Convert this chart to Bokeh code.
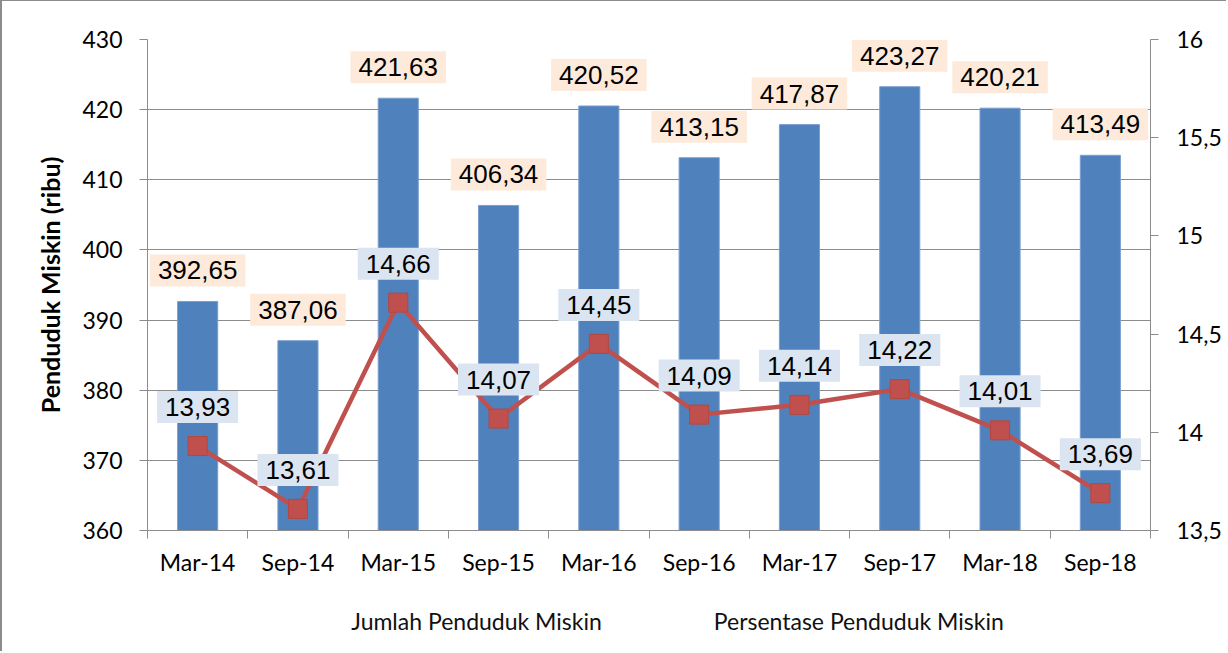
import numpy as np
from bokeh.plotting import figure
from bokeh.layouts import column
from bokeh.models import Range1d, LinearAxis, FixedTicker, Label, Legend, LegendItem
from bokeh.embed import file_html
from bokeh.resources import INLINE

categories = ["Mar-14", "Sep-14", "Mar-15", "Sep-15", "Mar-16",
              "Sep-16", "Mar-17", "Sep-17", "Mar-18", "Sep-18"]
jumlah = [392.65, 387.06, 421.63, 406.34, 420.52, 413.15, 417.87, 423.27, 420.21, 413.49]
persen = [13.93, 13.61, 14.66, 14.07, 14.45, 14.09, 14.14, 14.22, 14.01, 13.69]
left_ticks = [360, 370, 380, 390, 400, 410, 420, 430]
right_ticks = [13.5, 14.0, 14.5, 15.0, 15.5, 16.0]
right_tick_labels = ["13,5", "14", "14,5", "15", "15,5", "16"]
series_names = ["Jumlah Penduduk Miskin", "Persentase Penduduk Miskin"]
y_title = "Penduduk Miskin (ribu)"

BLUE = "#4F81BD"
RED = "#C0504D"
GRID = "#8C8C8C"
FONT = "Lato"
LABEL_FONT = "Liberation Sans"

n = len(categories)
xs = [i + 0.5 for i in range(n)]
boundaries = [float(i) for i in range(n + 1)]

p = figure(width=1226, height=590, output_backend="svg", toolbar_location=None,
           x_range=Range1d(0, n), y_range=Range1d(left_ticks[0], left_ticks[-1]),
           min_border_left=145, min_border_right=78, min_border_top=38, min_border_bottom=61)
p.styles = {"border-left": "2px solid #8C8C8C", "border-top": "1px solid #8C8C8C"}
p.extra_y_ranges = {"pct": Range1d(right_ticks[0], right_ticks[-1])}
p.outline_line_color = None
p.background_fill_color = "white"
p.border_fill_color = "white"

# x axis
xa = p.xaxis[0]
xa.axis_label = None
xa.ticker = FixedTicker(ticks=xs, minor_ticks=boundaries)
xa.major_label_overrides = {x: c for x, c in zip(xs, categories)}
xa.major_tick_out = 0
xa.major_tick_in = 0
xa.minor_tick_out = 8
xa.minor_tick_in = 0
xa.minor_tick_line_color = GRID
xa.axis_line_color = GRID
xa.major_label_text_font = FONT
xa.major_label_text_font_size = "23px"
xa.major_label_text_color = "black"
xa.major_label_standoff = 9

# left axis
ya = p.yaxis[0]
ya.ticker = FixedTicker(ticks=left_ticks, minor_ticks=[])
ya.major_tick_out = 8
ya.major_tick_in = 0
ya.major_tick_line_color = GRID
ya.axis_line_color = GRID
ya.major_label_text_font = FONT
ya.major_label_text_font_size = "23px"
ya.major_label_text_color = "black"
ya.major_label_standoff = 17
ya.axis_label = y_title
ya.axis_label_text_font = FONT
ya.axis_label_text_font_style = "bold"
ya.axis_label_text_font_size = "25px"
ya.axis_label_text_color = "black"
ya.axis_label_standoff = 14

# right axis
ra = LinearAxis(y_range_name="pct", ticker=FixedTicker(ticks=right_ticks, minor_ticks=[]))
ra.major_label_overrides = {t: s for t, s in zip(right_ticks, right_tick_labels)}
ra.major_tick_out = 8
ra.major_tick_in = 0
ra.major_tick_line_color = GRID
ra.axis_line_color = GRID
ra.major_label_text_font = FONT
ra.major_label_text_font_size = "23px"
ra.major_label_text_color = "black"
ra.major_label_standoff = 18
p.add_layout(ra, "right")

p.xgrid.visible = False
p.ygrid.ticker = FixedTicker(ticks=left_ticks)
p.ygrid.grid_line_color = GRID
p.ygrid.grid_line_width = 1

bar_style = dict(fill_color=BLUE, line_color="#7A9FCF", line_width=1)
line_style = dict(line_color=RED, line_width=4.5)
mark_style = dict(marker="square", size=19, fill_color=RED, line_color="#B5473F", line_width=1)

p.vbar(x=xs, top=jumlah, bottom=left_ticks[0], width=0.4, **bar_style)
p.line(xs, persen, y_range_name="pct", **line_style)
p.scatter(xs, persen, y_range_name="pct", **mark_style)


def fmt(v):
    return f"{v:.2f}".replace(".", ",")


for x, v in zip(xs, jumlah):
    p.add_layout(Label(x=x, y=v, text=fmt(v), text_align="center", text_baseline="middle",
                       y_offset=31, text_font=LABEL_FONT, text_font_size="26px",
                       text_color="black", background_fill_color="#FDEADA",
                       padding=dict(left=8, right=8, top=7, bottom=7)))

for x, v in zip(xs, persen):
    p.add_layout(Label(x=x, y=v, y_range_name="pct", text=fmt(v), text_align="center",
                       text_baseline="middle", y_offset=39, text_font=LABEL_FONT,
                       text_font_size="26px", text_color="black",
                       background_fill_color="#DBE5F1",
                       padding=dict(left=8, right=8, top=7, bottom=7)))

# legend strip below the chart
lg = figure(width=1226, height=61, output_backend="svg", toolbar_location=None,
            x_axis_location=None, y_axis_location=None,
            x_range=Range1d(0, 1), y_range=Range1d(0, 1),
            min_border_left=0, min_border_right=0, min_border_top=0, min_border_bottom=0)
lg.styles = {"border-left": "2px solid #8C8C8C"}
lg.outline_line_color = None
lg.xgrid.visible = False
lg.ygrid.visible = False
lg.background_fill_color = "white"
lg.border_fill_color = "white"

lb = lg.vbar(x=[], top=[], width=0.4, **bar_style)
ll = lg.line([], [], **line_style)
lm = lg.scatter([], [], **mark_style)

legend = Legend(items=[LegendItem(label=series_names[0], renderers=[lb]),
                       LegendItem(label=series_names[1], renderers=[ll, lm])],
                orientation="horizontal", location="center",
                glyph_width=52, glyph_height=15, label_standoff=6, spacing=54,
                padding=0, margin=0, border_line_color=None, background_fill_alpha=0,
                label_text_font=FONT, label_text_font_size="23px", label_text_color="#111111")
lg.add_layout(legend, "center")

layout = column(p, lg, spacing=0)

open("out.html", "w").write(file_html(layout, INLINE))
